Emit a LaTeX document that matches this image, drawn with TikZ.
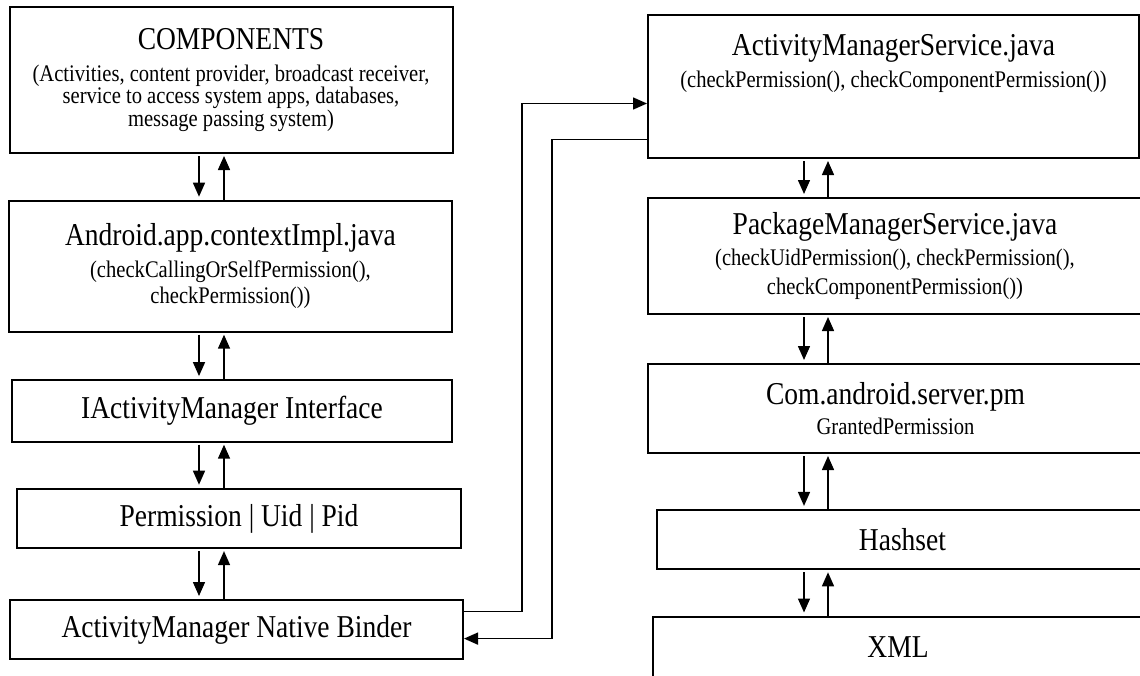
\documentclass[tikz,border=0pt]{standalone}
\usepackage{fontspec}
\setmainfont{Liberation Serif}[FakeStretch=0.865]
\usetikzlibrary{arrows.meta,positioning,calc}

\newcommand{\bigtxt}{\fontsize{15.9}{16}\selectfont}
\newcommand{\smalltxt}{\fontsize{11.9}{11.5}\selectfont}

\tikzset{
  blk/.style={draw,line width=1pt,inner sep=0pt,align=center,font=\bigtxt},
  flow/.style={-{Triangle[length=7pt,width=6pt]},line width=0.75pt},
}

\begin{document}
\begin{tikzpicture}[x=0.5pt,y=-0.5pt]
\useasboundingbox (0,0) rectangle (1140,675);
\clip (0,0) rectangle (1140,675);
% left column
\node[blk,minimum width=221.5pt,minimum height=73pt] (comp) at (231,80)
  {COMPONENTS\\
   \smalltxt (Activities, content provider, broadcast receiver,\\[-4.75pt]
   \smalltxt service to access system apps, databases,\\[-4.75pt]
   \smalltxt message passing system)};
\node[blk,minimum width=221.5pt,minimum height=65.5pt] (ctx) at (230.5,266.2)
  {Android.app.contextImpl.java\\
   \smalltxt (checkCallingOrSelfPermission(),\\[-3pt]
   \smalltxt checkPermission())};
\node[blk,minimum width=220pt,minimum height=30.8pt] (iam) at (232,410.9) {IActivityManager Interface};
\node[blk,minimum width=222pt,minimum height=29.7pt] (perm) at (239,518.4) {Permission | Uid | Pid};
\node[blk,minimum width=226.5pt,minimum height=29.5pt] (bind) at (236.5,629.5) {ActivityManager Native Binder};
% right column
\node[blk,minimum width=245.5pt,minimum height=71.5pt] (ams) at (893.5,86.5)
  {ActivityManagerService.java\\
   \smalltxt (checkPermission(), checkComponentPermission())\\[10pt]
   \mbox{}};
\node[blk,minimum width=247pt,minimum height=58pt] (pms) at (895,256)
  {PackageManagerService.java\\[-0.5pt]
   \smalltxt (checkUidPermission(), checkPermission(),\\[-1.5pt]
   \smalltxt checkComponentPermission())};
\node[blk,minimum width=247.5pt,minimum height=44.5pt] (com) at (895.5,408.5)
  {Com.android.server.pm\\[-1pt]
   \smalltxt GrantedPermission};
\node[blk,minimum width=245.5pt,minimum height=29.7pt] (hash) at (902.5,539.6) {Hashset};
\node[blk,minimum width=245pt,minimum height=30.5pt] (xml) at (898,647) {XML};
% up and down arrows between the layers
\coordinate (ldn) at (199,0);
\coordinate (lup) at (224,0);
\coordinate (rdn) at (804,0);
\coordinate (rup) at (828,0);
\foreach \a/\b in {comp/ctx,ctx/iam,iam/perm,perm/bind}{
  \draw[flow,shorten <=1pt,shorten >=1.5pt] (\a.south -| ldn) -- (\b.north -| ldn);
  \draw[flow,shorten >=1pt] (\b.north -| lup) -- (\a.south -| lup);}
\foreach \a/\b in {ams/pms,pms/com,com/hash,hash/xml}{
  \draw[flow,shorten <=1pt,shorten >=1.5pt] (\a.south -| rdn) -- (\b.north -| rdn);
  \draw[flow,shorten >=1pt] (\b.north -| rup) -- (\a.south -| rup);}
% binder <-> activity manager service
\coordinate (o1) at (522,611.7);
\coordinate (o2) at (522,103.5);
\coordinate (r1) at (552,139.6);
\coordinate (r2) at (552,638.6);
\draw[flow] (bind.east |- o1) -- (o1) -- (o2) -- (ams.west |- o2);
\draw[flow] (ams.west |- r1) -- (r1) -- (r2) -- (bind.east |- r2);
\end{tikzpicture}
\end{document}
